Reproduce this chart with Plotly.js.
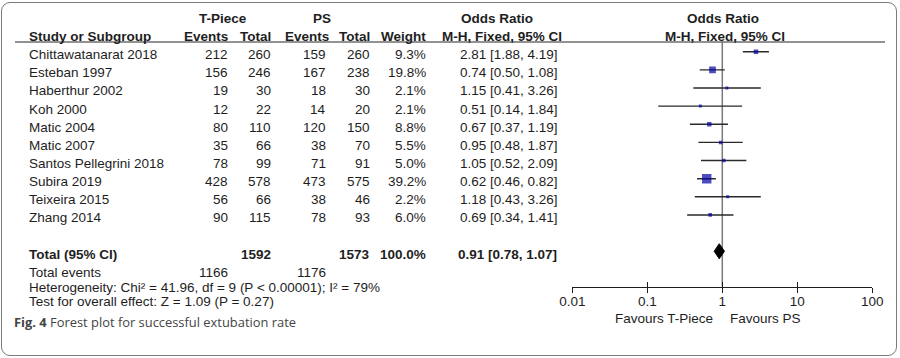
<!DOCTYPE html>
<html>
<head>
<meta charset="utf-8">
<script src="https://cdn.plot.ly/plotly-3.0.1.min.js"></script>
<style>
  html, body { margin: 0; padding: 0; background: #fff; }
  #wrap { position: relative; width: 900px; height: 358px; }
  #chart { width: 900px; height: 358px; }
  #frame { position: absolute; left: 1px; top: 2px; width: 894px; height: 352px;
           border: 1.5px solid #7a7a7a; border-radius: 9px; pointer-events: none; }
</style>
</head>
<body>
<div id="wrap"><div id="chart"></div><div id="frame"></div></div>
<script>
// ---------------- data ----------------
const studies = ["Chittawatanarat 2018", "Esteban 1997", "Haberthur 2002", "Koh 2000", "Matic 2004",
                 "Matic 2007", "Santos Pellegrini 2018", "Subira 2019", "Teixeira 2015", "Zhang 2014"];
const tpEvents = [212, 156, 19, 12, 80, 35, 78, 428, 56, 90];
const tpTotal  = [260, 246, 30, 22, 110, 66, 99, 578, 66, 115];
const psEvents = [159, 167, 18, 14, 120, 38, 71, 473, 38, 78];
const psTotal  = [260, 238, 30, 20, 150, 70, 91, 575, 46, 93];
const weights  = [9.3, 19.8, 2.1, 2.1, 8.8, 5.5, 5.0, 39.2, 2.2, 6.0];
const orEst    = [2.81, 0.74, 1.15, 0.51, 0.67, 0.95, 1.05, 0.62, 1.18, 0.69];
const orLo     = [1.88, 0.50, 0.41, 0.14, 0.37, 0.48, 0.52, 0.46, 0.43, 0.34];
const orHi     = [4.19, 1.08, 3.26, 1.84, 1.19, 1.87, 2.09, 0.82, 3.26, 1.41];

const totalTpN = 1592, totalPsN = 1573, totalWeight = 100.0;
const totalOr = 0.91, totalLo = 0.78, totalHi = 1.07;
const totalTpEvents = 1166, totalPsEvents = 1176;
const heterogeneityText = "Heterogeneity: Chi² = 41.96, df = 9 (P < 0.00001); I² = 79%";
const overallText = "Test for overall effect: Z = 1.09 (P = 0.27)";
const tickVals = [0.01, 0.1, 1, 10, 100];
const tickLabels = ["0.01", "0.1", "1", "10", "100"];
const favoursLeft = "Favours T-Piece", favoursRight = "Favours PS";
const captionBold = "Fig. 4", captionText = " Forest plot for successful extubation rate";

// ---------------- layout helpers ----------------
const W = 900, H = 358;
const FONT = "Liberation Sans, Arial, sans-serif";
const FS = 13.5;
const TXT = "#1e1e1e";
const row0 = 51.7, rowH = 18.14;           // pixel of first row, row spacing
const yTop = -row0 / rowH, yBot = (H - row0) / rowH;
const px = x => x / W;                      // paper x from pixel
const py = y => 1 - y / H;                  // paper y from pixel
const rowOf = p => (p - row0) / rowH;
const totalRow = studies.length + 1;
const fmt2 = v => v.toFixed(2);
const orStr = (e, l, h) => fmt2(e) + " [" + fmt2(l) + ", " + fmt2(h) + "]";

const annotations = [];
function txt(text, x, y, anchor, opts) {
  opts = opts || {};
  annotations.push({
    text: opts.bold ? "<b>" + text + "</b>" : text,
    x: px(x), xref: "paper", xanchor: anchor,
    y: opts.paperY ? py(y) : y, yref: opts.paperY ? "paper" : "y", yanchor: "middle",
    yshift: opts.paperY ? 0 : -3,
    showarrow: false,
    font: { family: opts.family || FONT, size: opts.size || FS, color: opts.color || TXT }
  });
}

// column right edges (pixels)
const C = { name: 27, tpE: 230, tpT: 273, psE: 328, psT: 372, w: 428, or: 560 };

// headers
txt("T-Piece", 223, -2, "center", { bold: true });
txt("PS", 322, -2, "center", { bold: true });
txt("Odds Ratio", 497, -2, "center", { bold: true });
txt("Odds Ratio", 723, -2, "center", { bold: true });
txt("Study or Subgroup", C.name, -1, "left", { bold: true });
txt("Events", C.tpE, -1, "right", { bold: true });
txt("Total", C.tpT, -1, "right", { bold: true });
txt("Events", 331, -1, "right", { bold: true });
txt("Total", C.psT, -1, "right", { bold: true });
txt("Weight", C.w, -1, "right", { bold: true });
txt("M-H, Fixed, 95% CI", 502, -1, "center", { bold: true });
txt("M-H, Fixed, 95% CI", 725, -1, "center", { bold: true });

// study rows
studies.forEach((s, i) => {
  txt(s, C.name, i, "left");
  txt(String(tpEvents[i]), C.tpE, i, "right");
  txt(String(tpTotal[i]), C.tpT, i, "right");
  txt(String(psEvents[i]), C.psE, i, "right");
  txt(String(psTotal[i]), C.psT, i, "right");
  txt(weights[i].toFixed(1) + "%", C.w, i, "right");
  txt(orStr(orEst[i], orLo[i], orHi[i]), C.or, i, "right");
});

// totals
txt("Total (95% CI)", C.name, totalRow, "left", { bold: true });
txt(String(totalTpN), C.tpT, totalRow, "right", { bold: true });
txt(String(totalPsN), C.psT, totalRow, "right", { bold: true });
txt(totalWeight.toFixed(1) + "%", C.w, totalRow, "right", { bold: true });
txt(orStr(totalOr, totalLo, totalHi), C.or - 1, totalRow, "right", { bold: true });
txt("Total events", C.name, totalRow + 1, "left");
txt(String(totalTpEvents), C.tpE, totalRow + 1, "right");
txt(String(totalPsEvents), C.psE, totalRow + 1, "right");
txt(heterogeneityText, C.name, 287.5, "left", { paperY: true });
txt(overallText, C.name, 301.5, "left", { paperY: true });

// favours labels
txt(favoursLeft, 715, 318, "right", { paperY: true });
txt(favoursRight, 728, 318, "left", { paperY: true });

// caption
annotations.push({
  text: "<b>" + captionBold + "</b>" + captionText,
  x: px(12), xref: "paper", xanchor: "left", y: py(322), yref: "paper", yanchor: "middle",
  showarrow: false, font: { family: "Open Sans, sans-serif", size: 12.9, color: "#444" }
});

// ---------------- traces ----------------
const ciX = [], ciY = [];
studies.forEach((s, i) => { ciX.push(orLo[i], orHi[i], null); ciY.push(i, i, null); });

const ciTrace = { type: "scatter", mode: "lines", x: ciX, y: ciY,
  line: { color: "#2a2a2a", width: 1.4 }, hoverinfo: "skip", showlegend: false };

const ptTrace = { type: "scatter", mode: "markers", x: orEst, y: studies.map((s, i) => i),
  marker: { symbol: "square", color: "#0000a0", size: weights.map(w => Math.max(3, 1.5 * Math.sqrt(w))),
            line: { width: 0 } },
  showlegend: false };

const dh = 7.5 / rowH;
const diamond = { type: "scatter", mode: "lines",
  x: [totalLo, totalOr, totalHi, totalOr, totalLo],
  y: [totalRow, totalRow - dh, totalRow, totalRow + dh, totalRow],
  fill: "toself", fillcolor: "#000", line: { color: "#000", width: 1 }, showlegend: false };

const dummy = { type: "scatter", mode: "markers", x: [1], y: [yBot + 5], xaxis: "x2", yaxis: "y",
  marker: { opacity: 0 }, showlegend: false, hoverinfo: "skip" };

const axisPx = 286.5;
const axisCommon = {
  type: "log", range: [-2, 2], domain: [px(572.3), px(872.3)],
  anchor: "free", position: py(axisPx),
  tickvals: tickVals, ticktext: tickLabels,
  showgrid: false, zeroline: false, ticklen: 5, tickwidth: 1.4, tickcolor: "#1e1e1e",
  tickfont: { family: FONT, size: FS, color: TXT }, fixedrange: true
};

const layout = {
  width: W, height: H, margin: { l: 0, r: 0, t: 0, b: 0 },
  paper_bgcolor: "#fff", plot_bgcolor: "rgba(0,0,0,0)", showlegend: false,
  xaxis: Object.assign({}, axisCommon, { ticks: "outside", showline: true, linecolor: "#1e1e1e", linewidth: 1.4,
                                         ticklabelstandoff: -3 }),
  xaxis2: Object.assign({}, axisCommon, { overlaying: "x", ticks: "inside", showticklabels: false, showline: false }),
  yaxis: { range: [yBot, yTop], domain: [0, 1], visible: false, fixedrange: true },
  shapes: [
    { type: "line", xref: "paper", yref: "paper", x0: px(15), x1: px(885), y0: py(42), y1: py(42),
      line: { color: "#6e6e6e", width: 1.5 } },
    { type: "line", xref: "x", yref: "y", x0: 1, x1: 1, y0: rowOf(42), y1: rowOf(axisPx),
      line: { color: "#7a7a7a", width: 1.5 }, layer: "below" }
  ],
  annotations: annotations
};

Plotly.newPlot("chart", [ciTrace, ptTrace, diamond, dummy], layout, { displayModeBar: false, staticPlot: true });
</script>
</body>
</html>
